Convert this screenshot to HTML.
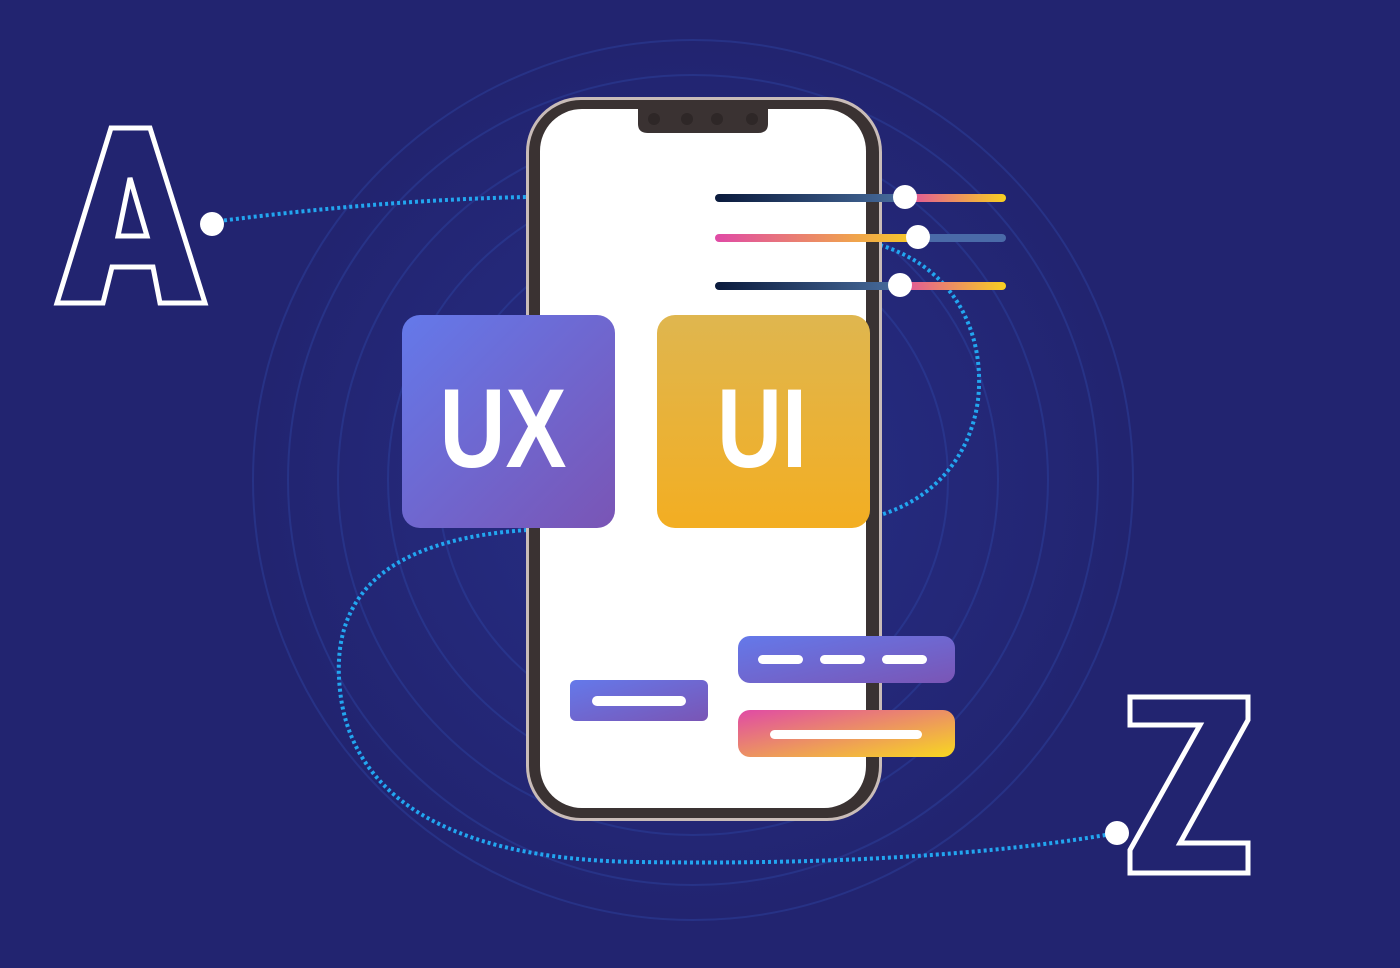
<!DOCTYPE html>
<html><head><style>
html,body{margin:0;padding:0;background:#222470;}
svg{display:block}
</style></head><body>
<svg width="1400" height="968" viewBox="0 0 1400 968" xmlns="http://www.w3.org/2000/svg">
<defs>
<linearGradient id="ux" x1="0" y1="0" x2="1" y2="1"><stop offset="0" stop-color="#6479ea"/><stop offset="1" stop-color="#7a55b5"/></linearGradient>
<linearGradient id="ui" x1="0" y1="0" x2="0" y2="1"><stop offset="0" stop-color="#dfb64f"/><stop offset="1" stop-color="#f3ae22"/></linearGradient>
<linearGradient id="pk" x1="0" y1="0" x2="1" y2="1"><stop offset="0" stop-color="#e04aa6"/><stop offset="1" stop-color="#f8d820"/></linearGradient>
<linearGradient id="pkh" x1="0" y1="0" x2="1" y2="0"><stop offset="0" stop-color="#e04aa6"/><stop offset="1" stop-color="#f8d020"/></linearGradient>
<linearGradient id="dk" x1="0" y1="0" x2="1" y2="0"><stop offset="0" stop-color="#0a1a3c"/><stop offset="1" stop-color="#4a6fa0"/></linearGradient>
<radialGradient id="glow" cx="0.5" cy="0.5" r="0.5"><stop offset="0" stop-color="#2a3595"/><stop offset="1" stop-color="#222470"/></radialGradient>
</defs>
<rect width="1400" height="968" fill="#222470"/>
<circle cx="693" cy="480" r="440" fill="url(#glow)" opacity="0.6"/>
<g fill="none" stroke="#2f48a8" stroke-width="2" opacity="0.4">
<circle cx="693" cy="480" r="440"/>
<circle cx="693" cy="480" r="405"/>
<circle cx="693" cy="480" r="355"/>
<circle cx="693" cy="480" r="305"/>
<circle cx="693" cy="480" r="255"/>
</g>
<g fill="none" stroke="#22a6f0" stroke-width="4" stroke-dasharray="3 3">
<path d="M212 222 Q380 200 527 197"/>
<path d="M527 530 C380 540 330 600 340 690 C350 790 440 860 640 862 C900 866 1050 845 1117 833"/>
<path d="M880 245 C960 270 985 340 978 400 C970 460 930 500 880 515"/>
</g>
<circle cx="212" cy="224" r="12" fill="#fff"/>
<circle cx="1117" cy="833" r="12" fill="#fff"/>
<path d="M111 128 L150 128 L205 303 L160 303 L153 267 L112 267 L103 303 L57 303 Z M130 178 L118 236 L147 236 Z" fill="none" stroke="#fff" stroke-width="5"/>
<path d="M1130 697 L1248 697 L1248 720 L1180 843 L1248 843 L1248 873 L1130 873 L1130 850 L1200 725 L1130 725 Z" fill="none" stroke="#fff" stroke-width="5"/>
<rect x="526" y="97" width="356" height="724" rx="55" fill="#c9bcb8"/>
<rect x="529" y="100" width="350" height="718" rx="52" fill="#3a3232"/>
<rect x="540" y="109" width="326" height="699" rx="42" fill="#fff"/>
<path d="M638 108 L768 108 L768 124 Q768 133 758 133 L648 133 Q638 133 638 124 Z" fill="#3a3232"/>
<g fill="#2e2727"><circle cx="654" cy="119" r="6"/><circle cx="687" cy="119" r="6"/><circle cx="717" cy="119" r="6"/><circle cx="752" cy="119" r="6"/></g>
<rect x="715" y="194" width="195" height="8" rx="4" fill="url(#dk)"/>
<rect x="900" y="194" width="106" height="8" rx="4" fill="url(#pkh)"/>
<rect x="715" y="234" width="210" height="8" rx="4" fill="url(#pkh)"/>
<rect x="915" y="234" width="91" height="8" rx="4" fill="#4a6aa8"/>
<rect x="715" y="282" width="190" height="8" rx="4" fill="url(#dk)"/>
<rect x="895" y="282" width="111" height="8" rx="4" fill="url(#pkh)"/>
<circle cx="905" cy="197" r="12" fill="#fff"/>
<circle cx="918" cy="237" r="12" fill="#fff"/>
<circle cx="900" cy="285" r="12" fill="#fff"/>
<rect x="402" y="315" width="213" height="213" rx="18" fill="url(#ux)"/>
<rect x="657" y="315" width="213" height="213" rx="18" fill="url(#ui)"/>
<text x="503" y="467" text-anchor="middle" font-family="Liberation Sans Narrow, Liberation Sans, sans-serif" font-weight="bold" font-size="112" fill="#fff" textLength="127" lengthAdjust="spacingAndGlyphs">UX</text>
<text x="762" y="467" text-anchor="middle" font-family="Liberation Sans Narrow, Liberation Sans, sans-serif" font-weight="bold" font-size="112" fill="#fff" textLength="90" lengthAdjust="spacingAndGlyphs">UI</text>
<rect x="570" y="680" width="138" height="41" rx="6" fill="url(#ux)"/>
<rect x="592" y="696" width="94" height="10" rx="5" fill="#fff"/>
<rect x="738" y="636" width="217" height="47" rx="12" fill="url(#ux)"/>
<g fill="#fff"><rect x="758" y="655" width="45" height="9" rx="4.5"/><rect x="820" y="655" width="45" height="9" rx="4.5"/><rect x="882" y="655" width="45" height="9" rx="4.5"/></g>
<rect x="738" y="710" width="217" height="47" rx="12" fill="url(#pk)"/>
<rect x="770" y="730" width="152" height="9" rx="4.5" fill="#fff"/>
</svg>
</body></html>
